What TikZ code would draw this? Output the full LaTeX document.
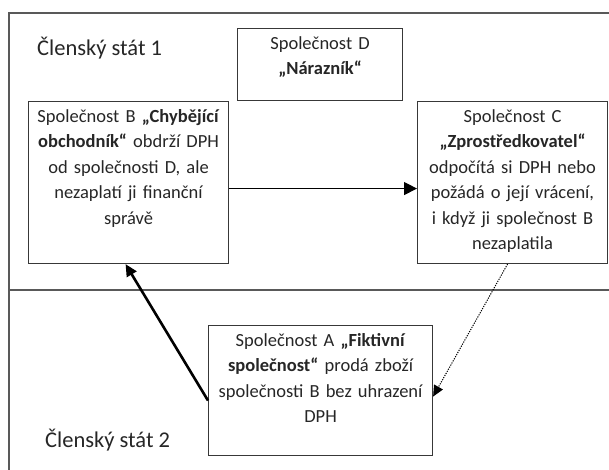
\documentclass[tikz,border=0pt]{standalone}
\usepackage{fontspec}
\setmainfont{Carlito}
\usetikzlibrary{arrows.meta, positioning}

\begin{document}
\begin{tikzpicture}[x=1pt, y=-1pt,
	firm/.style={draw=black!78, line width=1.1pt, anchor=north west, inner sep=0pt},
	firmtext/.style={anchor=north, align=center, inner sep=0pt, text=black!85,
		font=\fontsize{18.5}{25.5}\selectfont},
	statelabel/.style={anchor=west, inner sep=0pt, text=black!85,
		font=\fontsize{22.5}{27}\selectfont},
	frameline/.style={draw=black!65, line width=1.1pt},
	flow/.style={-{Triangle[length=13pt,width=13pt]}, line width=1.1pt},
	fake/.style={-{Triangle[length=12pt,width=11pt]}, line width=2.6pt},
	refund/.style={-{Triangle[length=11pt,width=10pt]}, line width=1pt, dash pattern=on 1.2pt off 1.2pt}]
%	\draw[help lines] (0,0) grid (609,470);
	\useasboundingbox (0,0) rectangle (609,470);
	\draw[frameline] (9,470) -- (9,13) -- (609,13);
	\draw[frameline] (9,290) -- (609,290);

	\node[statelabel] (state1) at (37,48) {Členský stát 1};
	\node[statelabel] (state2) at (45,440) {Členský stát 2};

	\node[firm, minimum width=165pt, minimum height=72pt] (firmD) at (237,28) {};
	\node[firm, minimum width=200pt, minimum height=162pt] (firmB) at (28,101) {};
	\node[firm, minimum width=190pt, minimum height=162pt] (firmC) at (417,101) {};
	\node[firm, minimum width=224pt, minimum height=130pt] (firmA) at (208,325) {};

	\node[firmtext, text width=160pt, below=8pt of firmD.north] (textD)
		{Společnost D\\ \textbf{„Nárazník“}};
	\node[firmtext, text width=196pt, below=8pt of firmB.north] (textB)
		{Společnost B \textbf{„Chybějící}\\ \textbf{obchodník“} obdrží DPH\\ od společnosti D, ale\\
		nezaplatí ji finanční\\ správě};
	\node[firmtext, text width=186pt, below=8pt of firmC.north] (textC)
		{Společnost C\\ \textbf{„Zprostředkovatel“}\\ odpočítá si DPH nebo\\ požádá o její vrácení,\\
		i když ji společnost B\\ nezaplatila};
	\node[firmtext, text width=220pt, below=8pt of firmA.north] (textA)
		{Společnost A \textbf{„Fiktivní}\\ \textbf{společnost“} prodá zboží\\ společnosti B bez uhrazení\\ DPH};

	\draw[flow] ([yshift=-6pt]firmB.east) -- ([yshift=-6pt]firmC.west);
	\draw[fake] ([yshift=-10pt]firmA.west) -- ([xshift=-3pt]firmB.south);
	\draw[refund] ([xshift=-5pt]firmC.south) -- ([yshift=-6pt]firmA.east);
\end{tikzpicture}
\end{document}
